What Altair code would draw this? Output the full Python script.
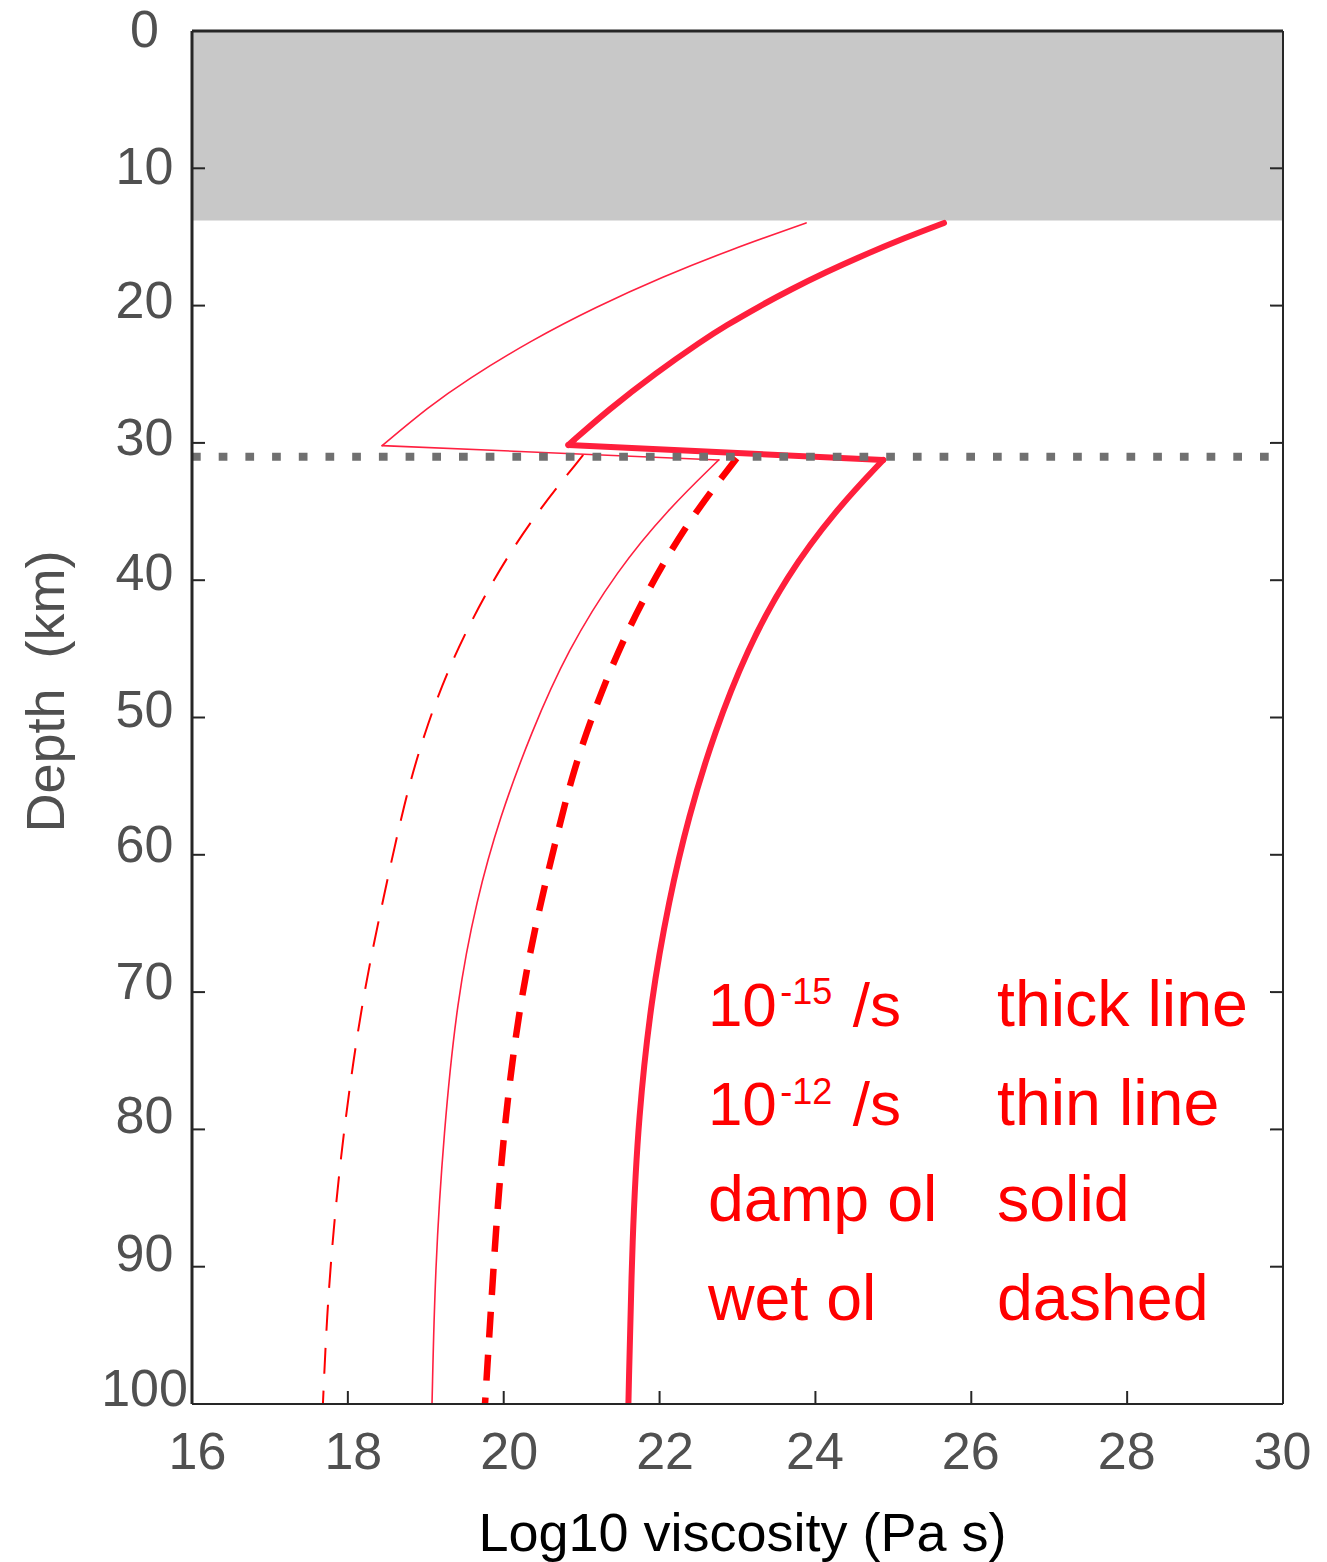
import altair as alt
import pandas as pd

# ---------------- data ----------------
X_DOMAIN = [16, 30]
Y_DOMAIN = [0, 100]
x_ticks = [16, 18, 20, 22, 24, 26, 28, 30]
y_ticks = [0, 10, 20, 30, 40, 50, 60, 70, 80, 90, 100]

crust_band = {"x0": [16], "x1": [30], "d0": [0], "d1": [13.8]}
moho_depth = [31.0]

# 1e-15 /s, damp olivine (thick solid): crust + mantle
thick_crust_x = [25.65, 25.14, 24.59, 24.14, 23.67, 23.31, 22.84, 22.54, 21.95, 21.34, 20.83]
thick_crust_d = [13.98, 15.08, 16.39, 17.55, 18.86, 19.96, 21.49, 22.58, 24.91, 27.60, 30.15]
thick_mantle_x = [24.87, 24.26, 23.62, 23.12, 22.70, 22.37, 22.12, 21.89, 21.73, 21.65, 21.60]
thick_mantle_d = [31.24, 34.89, 39.77, 45.08, 51.13, 57.25, 63.29, 70.57, 79.10, 87.55, 100.0]

# 1e-12 /s, damp olivine (thin solid): crust + mantle
thin_crust_x = [23.88, 22.90, 22.04, 21.19, 20.36, 19.52, 19.04, 18.44]
thin_crust_d = [13.98, 15.95, 17.90, 20.08, 22.51, 25.42, 27.36, 30.20]
thin_mantle_x = [22.76, 22.10, 21.46, 20.82, 20.35, 19.95, 19.65, 19.40, 19.23, 19.12, 19.08]
thin_mantle_d = [31.24, 34.89, 39.26, 45.08, 51.13, 57.25, 63.29, 70.57, 80.26, 90.02, 100.0]

# 1e-15 /s, wet olivine (thick dashed): mantle only
thick_wet_x = [22.99, 22.31, 21.66, 21.24, 20.89, 20.64, 20.48, 20.21, 20.02, 19.91, 19.83, 19.76]
thick_wet_d = [31.12, 36.10, 42.66, 48.24, 53.82, 59.65, 63.29, 70.57, 79.07, 86.36, 93.64, 100.0]

# 1e-12 /s, wet olivine (thin dashed): mantle only
thin_wet_x = [21.02, 20.38, 19.83, 19.31, 18.98, 18.73, 18.46, 18.18, 17.94, 17.81, 17.73, 17.68]
thin_wet_d = [30.88, 35.37, 40.23, 46.05, 51.15, 56.01, 63.05, 70.57, 80.28, 87.57, 93.64, 100.0]

# annotation text (big and superscript parts)
note_text = ["10", "-15", "/s", "thick line",
             "10", "-12", "/s", "thin line",
             "damp ol", "solid",
             "wet ol", "dashed"]
note_x = [22.62, 23.55, 24.48, 26.33,
          22.62, 23.55, 24.48, 26.33,
          22.62, 26.33,
          22.62, 26.33]
note_d = [72.47, 70.87, 72.47, 72.47,
          79.68, 78.15, 79.68, 79.68,
          86.67, 86.67,
          93.88, 93.88]
note_size = [62, 36, 62, 64.5,
             62, 36, 62, 64.5,
             64.5, 64.5,
             64.5, 64.5]

# ---------------- layout / style ----------------
W, H = 1091, 1373
FONT = "Liberation Sans"
LABEL_GRAY = "#505050"
FRAME = "#262626"
TICK_LEN = 13

xs = alt.Scale(domain=X_DOMAIN, nice=False, zero=False)
ys = alt.Scale(domain=Y_DOMAIN, reverse=True, nice=False, zero=False)

x_label_offset = {"condition": [{"test": "datum.value <= 22", "value": 5}], "value": -1}
y_label_offset = {
    "condition": [
        {"test": "datum.value <= 10", "value": 15},
        {"test": "datum.value <= 30", "value": 12},
        {"test": "datum.value <= 50", "value": 9},
        {"test": "datum.value <= 70", "value": 6.5},
        {"test": "datum.value <= 90", "value": 3.5},
    ],
    "value": 1.5,
}

xaxis = alt.Axis(
    values=x_ticks, format="d", title="Log10 viscosity (Pa s)",
    domain=False, ticks=False, tickSize=0, grid=False,
    labelFont=FONT, labelFontSize=52, labelColor=LABEL_GRAY,
    labelPadding=64, labelBaseline="alphabetic", labelFlush=False,
    labelOverlap=False, labelOffset=x_label_offset,
    titleFont=FONT, titleFontSize=54, titleColor="#000000", titleFontWeight="normal",
    titleBaseline="alphabetic", titleAlign="center", titleX=550, titleY=146,
)
yaxis = alt.Axis(
    values=y_ticks, format="d", title="Depth\u00a0\u00a0(km)",
    domain=False, ticks=False, tickSize=0, grid=False,
    labelFont=FONT, labelFontSize=52, labelColor=LABEL_GRAY,
    labelPadding=48, labelAlign="center", labelBaseline="alphabetic",
    labelOffset=y_label_offset, labelFlush=False, labelOverlap=False,
    titleFont=FONT, titleFontSize=54, titleColor=LABEL_GRAY, titleFontWeight="normal",
    titleAngle=270, titleBaseline="alphabetic", titleAlign="center",
    titleX=-129, titleY=660,
)


def X(field):
    return alt.X(field, type="quantitative", scale=xs, axis=xaxis)


def Y(field):
    return alt.Y(field, type="quantitative", scale=ys, axis=yaxis)


def segments(parts):
    rows = []
    i = 0
    for s, (xx, dd) in enumerate(parts):
        for a, b in zip(xx, dd):
            rows.append({"seg": s, "i": i, "x": a, "d": b})
            i += 1
    return pd.DataFrame(rows)


def with_jump(cx, cd, mx, md):
    return segments([(cx, cd), ([cx[-1], mx[0]], [cd[-1], md[0]]), (mx, md)])


thick_df = with_jump(thick_crust_x, thick_crust_d, thick_mantle_x, thick_mantle_d)
thin_df = with_jump(thin_crust_x, thin_crust_d, thin_mantle_x, thin_mantle_d)
thick_wet_df = segments([(thick_wet_x, thick_wet_d)])
thin_wet_df = segments([(thin_wet_x, thin_wet_d)])


def line_layer(df, width, color, dash=None, cap="round"):
    kw = dict(interpolate="basis", strokeWidth=width, color=color,
              strokeCap=cap, strokeJoin="round", clip=True)
    if dash:
        kw["strokeDash"] = dash
    return alt.Chart(df).mark_line(**kw).encode(
        x=X("x"), y=Y("d"), detail="seg:N", order="i:Q"
    )


band = alt.Chart(pd.DataFrame(crust_band)).mark_rect(color="#c8c8c8").encode(
    x=X("x0"), x2="x1", y=Y("d0"), y2="d1"
)

inner_y = pd.DataFrame({"d": y_ticks[1:-1]})
inner_x = pd.DataFrame({"x": x_ticks[1:-1]})
left_ticks = alt.Chart(inner_y).mark_rule(color=FRAME, strokeWidth=2).encode(
    y=Y("d"), x=alt.value(0), x2=alt.value(TICK_LEN))
right_ticks = alt.Chart(inner_y).mark_rule(color=FRAME, strokeWidth=2).encode(
    y=Y("d"), x=alt.value(W - TICK_LEN), x2=alt.value(W))
bottom_ticks = alt.Chart(inner_x).mark_rule(color=FRAME, strokeWidth=2).encode(
    x=X("x"), y=alt.value(H), y2=alt.value(H - TICK_LEN))

one = pd.DataFrame({"a": [0]})
frame_top = alt.Chart(one).mark_rule(color=FRAME, strokeWidth=3).encode(
    x=alt.value(0), x2=alt.value(W), y=alt.value(0))
frame_left = alt.Chart(one).mark_rule(color=FRAME, strokeWidth=3).encode(
    x=alt.value(0), y=alt.value(0), y2=alt.value(H))
frame_right = alt.Chart(one).mark_rule(color=FRAME, strokeWidth=2).encode(
    x=alt.value(W), y=alt.value(0), y2=alt.value(H))
frame_bottom = alt.Chart(one).mark_rule(color=FRAME, strokeWidth=2).encode(
    x=alt.value(0), x2=alt.value(W), y=alt.value(H))

moho = alt.Chart(pd.DataFrame({"d": moho_depth})).mark_rule(
    color="#707070", strokeWidth=8, strokeDash=[8.7, 18]
).encode(y=Y("d"), x=alt.value(0), x2=alt.value(W))

notes = alt.Chart(pd.DataFrame({"t": note_text, "x": note_x, "d": note_d, "fs": note_size})).mark_text(
    align="left", baseline="alphabetic", color="#ff0000", font=FONT
).encode(x=X("x"), y=Y("d"), text="t:N", size=alt.Size("fs:Q", scale=None))

chart = alt.layer(
    band,
    line_layer(thin_wet_df, 2, "#ff0000", dash=[26, 17], cap="butt"),
    line_layer(thin_df, 1.6, "#ff2040"),
    line_layer(thick_wet_df, 6.5, "#ff0000", dash=[26, 17], cap="butt"),
    line_layer(thick_df, 6, "#ff1f3c"),
    moho,
    left_ticks, right_ticks, bottom_ticks,
    frame_top, frame_left, frame_right, frame_bottom,
    notes,
).properties(
    width=W, height=H,
    padding={"left": 192, "top": 31, "right": 44, "bottom": 158},
    autosize=alt.AutoSizeParams(type="none"),
    background="white",
).configure_view(stroke=None)

chart.save("out.html", embed_options={"renderer": "svg", "actions": False})
